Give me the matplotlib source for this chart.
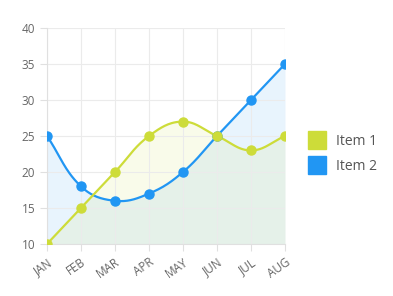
import numpy as np
import matplotlib.pyplot as plt
from matplotlib.lines import Line2D

plt.rcParams['font.family'] = ['Open Sans', 'DejaVu Sans']

months = ["JAN", "FEB", "MAR", "APR", "MAY", "JUN", "JUL", "AUG"]
item1 = [10, 15, 20, 25, 27, 25, 23, 25]
item2 = [25, 18, 16, 17, 20, 25, 30, 35]
labels = ["Item 1", "Item 2"]
colors = ["#cddc39", "#2196f3"]

# pixel scale used for the spline tension (px per unit)
SX, SY = 34.0, 7.2


def spline(ys, tension=0.4, n=30):
    """Cubic bezier curve through the points, chart.js style."""
    xs = np.arange(len(ys), dtype=float)
    pts = np.column_stack([xs * SX, np.asarray(ys, float) * SY])
    cps = []
    for i in range(len(pts)):
        prev = pts[max(i - 1, 0)]
        cur = pts[i]
        nxt = pts[min(i + 1, len(pts) - 1)]
        d01 = np.hypot(*(cur - prev))
        d12 = np.hypot(*(nxt - cur))
        tot = d01 + d12
        s01 = d01 / tot if tot else 0
        s12 = d12 / tot if tot else 0
        cps.append((cur - tension * s01 * (nxt - prev), cur + tension * s12 * (nxt - prev)))
    t = np.linspace(0, 1, n)[:, None]
    out = []
    for i in range(len(pts) - 1):
        p0, p3 = pts[i], pts[i + 1]
        p1, p2 = cps[i][1], cps[i + 1][0]
        seg = (1 - t) ** 3 * p0 + 3 * (1 - t) ** 2 * t * p1 + 3 * (1 - t) * t ** 2 * p2 + t ** 3 * p3
        out.append(seg if i == 0 else seg[1:])
    out = np.vstack(out)
    return out[:, 0] / SX, out[:, 1] / SY


fig = plt.figure(figsize=(3.93, 2.96), dpi=100)
ax = fig.add_axes([47 / 393, 1 - 244 / 296, 238 / 393, 216 / 296])

for ys, c in [(item2, colors[1]), (item1, colors[0])]:
    cx, cy = spline(ys)
    ax.fill_between(cx, 10, cy, color=c, alpha=0.1, lw=0, zorder=1)
    ax.plot(cx, cy, color=c, lw=1.6, zorder=3)
    ax.plot(range(len(ys)), ys, "o", color=c, ms=6.5, zorder=4)

ax.set_xlim(0, 7)
ax.set_ylim(10, 40)
ax.set_yticks(range(10, 41, 5))
ax.set_xticks(range(len(months)))
ax.set_xticklabels(months, rotation=35, ha="right", rotation_mode="anchor")
ax.grid(color="#ebebeb", lw=0.8, zorder=0)
ax.tick_params(colors="#e0e0e0", labelcolor="#666666", labelsize=8.5, length=5, width=0.8)
for side in ["top", "right"]:
    ax.spines[side].set_visible(False)
for side in ["left", "bottom"]:
    ax.spines[side].set_color("#e0e0e0")
    ax.spines[side].set_linewidth(0.8)

handles = [Line2D([], [], marker="s", ls="none", ms=13, color=c) for c in colors]
fig.legend(handles, labels, loc="center left", bbox_to_anchor=(298 / 393, 1 - 154 / 296),
           frameon=False, fontsize=10, labelcolor="#555555", handletextpad=0.3,
           labelspacing=0.75, borderaxespad=0)

fig.savefig("out.png", dpi=100)
